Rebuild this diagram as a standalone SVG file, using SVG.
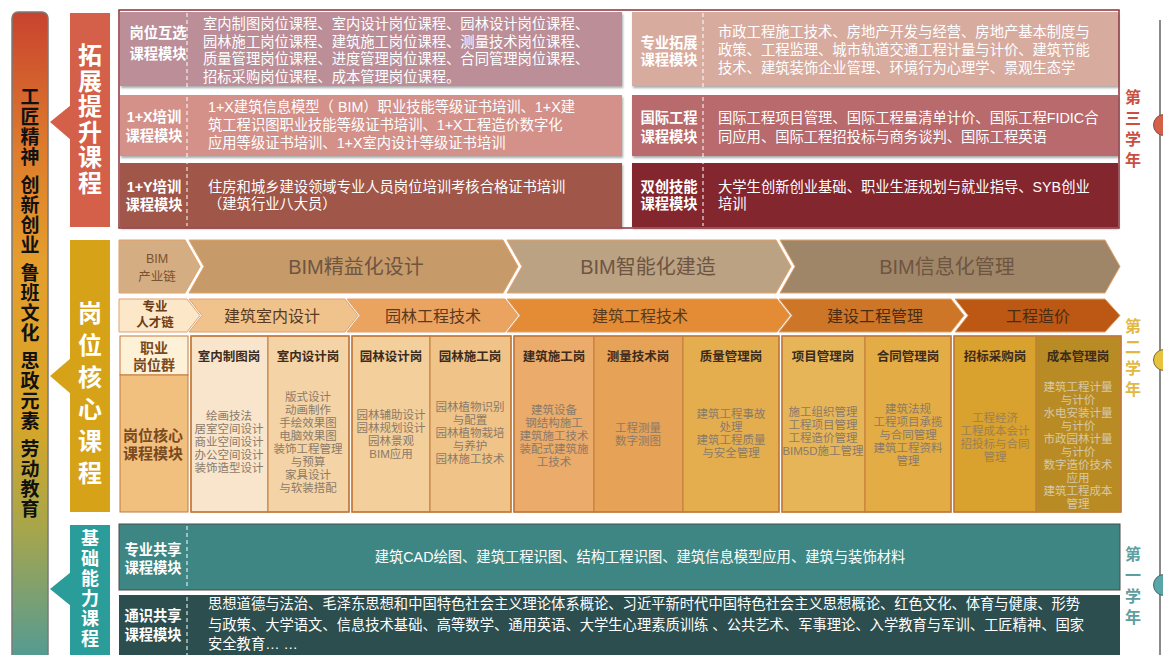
<svg xmlns="http://www.w3.org/2000/svg" width="1163" height="655" viewBox="0 0 1163 655">
<defs>
<linearGradient id="lg" x1="0" y1="0" x2="0" y2="1">
<stop offset="0" stop-color="#c8432f"/>
<stop offset="0.2" stop-color="#de7a2c"/>
<stop offset="0.38" stop-color="#e59e2c"/>
<stop offset="0.62" stop-color="#d8a628"/>
<stop offset="0.78" stop-color="#a8a64a"/>
<stop offset="0.88" stop-color="#7ea070"/>
<stop offset="1" stop-color="#4a9a9a"/>
</linearGradient>
<filter id="sh" x="-5%" y="-10%" width="110%" height="130%">
<feDropShadow dx="1" dy="2" stdDeviation="1" flood-color="#888" flood-opacity="0.7"/>
</filter>
<style>
text{font-family:"Liberation Sans","Noto Sans CJK SC",sans-serif;dominant-baseline:central}
.v{font-family:"Noto Sans CJK SC",sans-serif;writing-mode:vertical-rl;text-anchor:start}
.lab{font-size:14.3px;font-weight:bold;fill:#fff;text-anchor:middle}
.wt{font-size:14.3px;fill:#fff}
.big{font-size:24px;font-weight:bold;fill:#fff}
.lc{font-size:19px;font-weight:bold;fill:#111;letter-spacing:1px}
.yr{font-size:16px;font-weight:bold;letter-spacing:5px}
.dash{stroke:#fff;stroke-width:1;stroke-dasharray:4 3;fill:none}
.chv{stroke:#e2a26b;stroke-width:1}
.bim{font-size:20px;fill:#6e5542;text-anchor:middle}
.tal{font-size:16px;fill:#5a3a1e;text-anchor:middle}
.hd{font-size:12.5px;font-weight:bold;fill:#3d2b1c;text-anchor:middle}
.bd{font-size:11.5px;fill:#8b7a68;text-anchor:middle}
.cell{stroke:#c27a3a;stroke-width:1}
.grp{fill:none;stroke:#c27a3a;stroke-width:1.5}
</style>
</defs>
<rect width="1163" height="655" fill="#fff"/>

<g id="left-column">
<rect x="12" y="12" width="36" height="660" rx="6" fill="url(#lg)" stroke="#7a7a7a" stroke-width="1.5"/>
<text class="lc v" x="30" y="87.5">工匠精神</text>
<text class="lc v" x="30" y="175.5">创新创业</text>
<text class="lc v" x="30" y="263.5">鲁班文化</text>
<text class="lc v" x="30" y="351.5">思政元素</text>
<text class="lc v" x="30" y="439.5">劳动教育</text>
</g>

<g id="label-expand">
<polygon points="71,105 50,122 71,140" fill="#d4604a"/>
<rect x="70" y="13" width="40" height="214" fill="#d4604a"/>
<text class="big v" x="90" y="43" style="letter-spacing:1.5px">拓展提升课程</text>
</g>

<g id="label-core">
<polygon points="71,358 50,376 71,394" fill="#d6a318"/>
<rect x="70" y="240" width="40" height="272" fill="#d6a318"/>
<text class="big v" x="90" y="301" style="letter-spacing:8px">岗位核心课程</text>
</g>

<g id="label-basic">
<polygon points="71,572 50,589 71,606" fill="#2a9d9a"/>
<rect x="70" y="525" width="40" height="135" fill="#2a9d9a"/>
<text class="big v" x="90" y="529" style="font-size:18px;letter-spacing:2px">基础能力课程</text>
</g>

<g id="top-section">
<g id="m-huxuan" filter="url(#sh)">
<rect x="120" y="12" width="502" height="74" fill="#bc8e98"/>
</g>
<g id="m-1x" filter="url(#sh)">
<rect x="120" y="95" width="502" height="61" fill="#d3918a"/>
</g>
<g id="m-1y" filter="url(#sh)">
<rect x="120" y="163" width="502" height="64" fill="#a0564a"/>
</g>
<g id="m-tuozhan" filter="url(#sh)">
<rect x="632" y="12" width="486" height="74" fill="#d8ab9f"/>
</g>
<g id="m-guoji" filter="url(#sh)">
<rect x="632" y="95" width="486" height="61" fill="#b86b6d"/>
</g>
<g id="m-shuangchuang" filter="url(#sh)">
<rect x="632" y="163" width="486" height="64" fill="#84262f"/>
</g>
<rect x="119" y="10" width="1000" height="218" fill="none" stroke="#8c3038" stroke-width="1.5"/>
<line class="dash" x1="187" y1="13" x2="187" y2="226"/>
<line class="dash" x1="703" y1="13" x2="703" y2="226"/>

<text class="lab" x="158" y="33">岗位互选</text>
<text class="lab" x="158" y="54">课程模块</text>
<text class="wt" x="203" y="24">室内制图岗位课程、室内设计岗位课程、园林设计岗位课程、</text>
<text class="wt" x="203" y="41.5">园林施工岗位课程、建筑施工岗位课程、测量技术岗位课程、</text>
<text class="wt" x="203" y="59">质量管理岗位课程、进度管理岗位课程、合同管理岗位课程、</text>
<text class="wt" x="203" y="76.5">招标采购岗位课程、成本管理岗位课程。</text>

<text class="lab" x="154" y="117">1+X培训</text>
<text class="lab" x="154" y="136">课程模块</text>
<text class="wt" x="208" y="107">1+X建筑信息模型（ BIM）职业技能等级证书培训、1+X建</text>
<text class="wt" x="208" y="125">筑工程识图职业技能等级证书培训、1+X工程造价数字化</text>
<text class="wt" x="208" y="143">应用等级证书培训、1+X室内设计等级证书培训</text>

<text class="lab" x="154" y="187">1+Y培训</text>
<text class="lab" x="154" y="205">课程模块</text>
<text class="wt" x="208" y="186.5">住房和城乡建设领域专业人员岗位培训考核合格证书培训</text>
<text class="wt" x="208" y="203.5">（建筑行业八大员）</text>

<text class="lab" x="669" y="43">专业拓展</text>
<text class="lab" x="669" y="60">课程模块</text>
<text class="wt" x="718" y="32">市政工程施工技术、房地产开发与经营、房地产基本制度与</text>
<text class="wt" x="718" y="50">政策、工程监理、城市轨道交通工程计量与计价、建筑节能</text>
<text class="wt" x="718" y="67.5">技术、建筑装饰企业管理、环境行为心理学、景观生态学</text>

<text class="lab" x="669" y="118">国际工程</text>
<text class="lab" x="669" y="137">课程模块</text>
<text class="wt" x="718" y="118">国际工程项目管理、国际工程量清单计价、国际工程FIDIC合</text>
<text class="wt" x="718" y="137">同应用、国际工程招投标与商务谈判、国际工程英语</text>

<text class="lab" x="669" y="187">双创技能</text>
<text class="lab" x="669" y="204">课程模块</text>
<text class="wt" x="718" y="187">大学生创新创业基础、职业生涯规划与就业指导、SYB创业</text>
<text class="wt" x="718" y="204">培训</text>
</g>

<g id="bim-chain">
<polygon class="chv" points="119,240 185,240 200,266.5 185,293 119,293" fill="#d4ad83"/>
<text x="157" y="259" style="font-size:12.5px;fill:#7b5330;text-anchor:middle">BIM</text>
<text x="157" y="277" style="font-size:12.5px;fill:#7b5330;text-anchor:middle">产业链</text>
<polygon class="chv" points="189,240 503,240 518,266.5 503,293 189,293 204,266.5" fill="#c79b69"/>
<text class="bim" x="356" y="267">BIM精益化设计</text>
<polygon class="chv" points="507,240 776,240 791,266.5 776,293 507,293 522,266.5" fill="#bba283"/>
<text class="bim" x="648" y="267">BIM智能化建造</text>
<polygon class="chv" points="780,240 1105,240 1120,266.5 1105,293 780,293 795,266.5" fill="#a08668"/>
<text class="bim" x="947" y="267">BIM信息化管理</text>
</g>

<g id="talent-chain">
<polygon class="chv" points="119,299 187,299 200,315.5 187,332 119,332" fill="#fce7c9"/>
<text x="155" y="307" style="font-size:12.5px;font-weight:bold;fill:#6a3d18;text-anchor:middle">专业</text>
<text x="155" y="323" style="font-size:12.5px;font-weight:bold;fill:#6a3d18;text-anchor:middle">人才链</text>
<polygon class="chv" points="189,299 345,299 358,315.5 345,332 189,332 202,315.5" fill="#f0c28c"/>
<text class="tal" x="272" y="316">建筑室内设计</text>
<polygon class="chv" points="347,299 505,299 518,315.5 505,332 347,332 360,315.5" fill="#eba360"/>
<text class="tal" x="433" y="316">园林工程技术</text>
<polygon class="chv" points="507,299 777,299 790,315.5 777,332 507,332 520,315.5" fill="#e38b35"/>
<text class="tal" x="640" y="316">建筑工程技术</text>
<polygon class="chv" points="779,299 951,299 964,315.5 951,332 779,332 792,315.5" fill="#cd7628"/>
<text class="tal" x="875" y="316" style="fill:#4a2c12">建设工程管理</text>
<polygon class="chv" points="955,299 1105,299 1120,315.5 1105,332 955,332 968,315.5" fill="#bc5714"/>
<text class="tal" x="1038" y="316" style="fill:#4a2c12">工程造价</text>
</g>

<g id="post-label">
<rect class="cell" x="120" y="336" width="68" height="39" fill="#fdf1d8"/>
<rect class="cell" x="120" y="375" width="68" height="137" fill="#f1bf7e"/>
<text x="154" y="348" style="font-size:14px;font-weight:bold;fill:#7a4a20;text-anchor:middle">职业</text>
<text x="154" y="365" style="font-size:14px;font-weight:bold;fill:#7a4a20;text-anchor:middle">岗位群</text>
<text x="153" y="435" style="font-size:15px;font-weight:bold;fill:#7a4a20;text-anchor:middle">岗位核心</text>
<text x="153" y="453" style="font-size:15px;font-weight:bold;fill:#7a4a20;text-anchor:middle">课程模块</text>
</g>

<g id="group-interior">
<rect class="cell" x="191" y="336" width="77" height="176" fill="#f8e5cb"/>
<rect class="cell" x="268" y="336" width="81" height="176" fill="#f4d4a6"/>
<rect class="grp" x="191" y="336" width="158" height="176"/>
<text class="hd" x="229" y="357">室内制图岗</text>
<text class="bd"><tspan x="229" y="416">绘画技法</tspan><tspan x="229" y="429">居室空间设计</tspan><tspan x="229" y="442">商业空间设计</tspan><tspan x="229" y="455">办公空间设计</tspan><tspan x="229" y="468">装饰造型设计</tspan></text>
<text class="hd" x="308" y="357">室内设计岗</text>
<text class="bd"><tspan x="308" y="397">版式设计</tspan><tspan x="308" y="410">动画制作</tspan><tspan x="308" y="423">手绘效果图</tspan><tspan x="308" y="436">电脑效果图</tspan><tspan x="308" y="449">装饰工程管理</tspan><tspan x="308" y="462">与预算</tspan><tspan x="308" y="475">家具设计</tspan><tspan x="308" y="488">与软装搭配</tspan></text>
</g>

<g id="group-garden">
<rect class="cell" x="352" y="336" width="78" height="176" fill="#f3cf9b"/>
<rect class="cell" x="430" y="336" width="81" height="176" fill="#f0c489"/>
<rect class="grp" x="352" y="336" width="159" height="176"/>
<text class="hd" x="391" y="357">园林设计岗</text>
<text class="bd"><tspan x="391" y="415">园林辅助设计</tspan><tspan x="391" y="428">园林规划设计</tspan><tspan x="391" y="441">园林景观</tspan><tspan x="391" y="454">BIM应用</tspan></text>
<text class="hd" x="470" y="357">园林施工岗</text>
<text class="bd"><tspan x="470" y="407">园林植物识别</tspan><tspan x="470" y="420">与配置</tspan><tspan x="470" y="433">园林植物栽培</tspan><tspan x="470" y="446">与养护</tspan><tspan x="470" y="459">园林施工技术</tspan></text>
</g>

<g id="group-building">
<rect class="cell" x="514" y="336" width="80" height="176" fill="#eaab6b"/>
<rect class="cell" x="594" y="336" width="89" height="176" fill="#e6a257"/>
<rect class="cell" x="683" y="336" width="96" height="176" fill="#e4ae4f"/>
<rect class="grp" x="514" y="336" width="265" height="176"/>
<text class="hd" x="554" y="357">建筑施工岗</text>
<text class="bd"><tspan x="554" y="410">建筑设备</tspan><tspan x="554" y="423">钢结构施工</tspan><tspan x="554" y="436">建筑施工技术</tspan><tspan x="554" y="449">装配式建筑施</tspan><tspan x="554" y="462">工技术</tspan></text>
<text class="hd" x="638" y="357">测量技术岗</text>
<text class="bd"><tspan x="638" y="428">工程测量</tspan><tspan x="638" y="441">数字测图</tspan></text>
<text class="hd" x="731" y="357">质量管理岗</text>
<text class="bd"><tspan x="731" y="414">建筑工程事故</tspan><tspan x="731" y="427">处理</tspan><tspan x="731" y="440">建筑工程质量</tspan><tspan x="731" y="453">与安全管理</tspan></text>
</g>

<g id="group-management">
<rect class="cell" x="782" y="336" width="83" height="176" fill="#e6b558"/>
<rect class="cell" x="865" y="336" width="86" height="176" fill="#e3ac45"/>
<rect class="grp" x="782" y="336" width="169" height="176"/>
<text class="hd" x="823" y="357">项目管理岗</text>
<text class="bd"><tspan x="823" y="412">施工组织管理</tspan><tspan x="823" y="425">工程项目管理</tspan><tspan x="823" y="438">工程造价管理</tspan><tspan x="823" y="451">BIM5D施工管理</tspan></text>
<text class="hd" x="908" y="357">合同管理岗</text>
<text class="bd"><tspan x="908" y="409">建筑法规</tspan><tspan x="908" y="422">工程项目承揽</tspan><tspan x="908" y="435">与合同管理</tspan><tspan x="908" y="448">建筑工程资料</tspan><tspan x="908" y="461">管理</tspan></text>
</g>

<g id="group-cost">
<rect class="cell" x="954" y="336" width="82" height="176" fill="#d9a12e"/>
<rect class="cell" x="1036" y="336" width="85" height="176" fill="#b98b24"/>
<rect class="grp" x="954" y="336" width="167" height="176"/>
<text class="hd" x="995" y="357">招标采购岗</text>
<text class="bd" style="fill:#9a8058"><tspan x="995" y="418">工程经济</tspan><tspan x="995" y="431">工程成本会计</tspan><tspan x="995" y="444">招投标与合同</tspan><tspan x="995" y="457">管理</tspan></text>
<text class="hd" x="1078" y="357">成本管理岗</text>
<text class="bd" style="fill:#d6c9a6"><tspan x="1078" y="387">建筑工程计量</tspan><tspan x="1078" y="400">与计价</tspan><tspan x="1078" y="413">水电安装计量</tspan><tspan x="1078" y="426">与计价</tspan><tspan x="1078" y="439">市政园林计量</tspan><tspan x="1078" y="452">与计价</tspan><tspan x="1078" y="465">数字造价技术</tspan><tspan x="1078" y="478">应用</tspan><tspan x="1078" y="491">建筑工程成本</tspan><tspan x="1078" y="504">管理</tspan></text>
</g>

<g id="bottom-section">
<g id="m-zhuanye">
<rect x="119" y="524" width="1001" height="66" fill="#3e8683" stroke="#4a4a4a" stroke-width="1"/>
<line class="dash" x1="187" y1="526" x2="187" y2="588"/>
<text class="lab" x="153" y="550">专业共享</text>
<text class="lab" x="153" y="568">课程模块</text>
<text class="wt" x="640" y="557" style="text-anchor:middle">建筑CAD绘图、建筑工程识图、结构工程识图、建筑信息模型应用、建筑与装饰材料</text>
</g>
<g id="m-tongshi">
<rect x="119" y="595" width="1001" height="62" fill="#2c4e4e"/>
<line class="dash" x1="187" y1="597" x2="187" y2="655"/>
<text class="lab" x="153" y="616">通识共享</text>
<text class="lab" x="153" y="635">课程模块</text>
<text class="wt" x="208" y="604">思想道德与法治、毛泽东思想和中国特色社会主义理论体系概论、习近平新时代中国特色社会主义思想概论、红色文化、体育与健康、形势</text>
<text class="wt" x="208" y="624.5">与政策、大学语文、信息技术基础、高等数学、通用英语、大学生心理素质训练 、公共艺术、军事理论、入学教育与军训、工匠精神、国家</text>
<text class="wt" x="208" y="644">安全教育… …</text>
</g>
</g>

<g id="timeline">
<line x1="1160" y1="20" x2="1160" y2="655" stroke="#8a8a8a" stroke-width="2"/>
<circle cx="1164" cy="125" r="10.5" fill="#d4604a" stroke="#8a4a3a" stroke-width="1"/>
<circle cx="1164" cy="360" r="10.5" fill="#e6c23e" stroke="#7a6a30" stroke-width="1"/>
<circle cx="1164" cy="585" r="10.5" fill="#5aa5a8" stroke="#3a6a6a" stroke-width="1"/>
<text class="yr v" x="1133" y="89" style="fill:#c9503e">第三学年</text>
<text class="yr v" x="1133" y="318" style="fill:#e2b843">第二学年</text>
<text class="yr v" x="1133" y="546" style="fill:#5e9ea0">第一学年</text>
</g>
</svg>
